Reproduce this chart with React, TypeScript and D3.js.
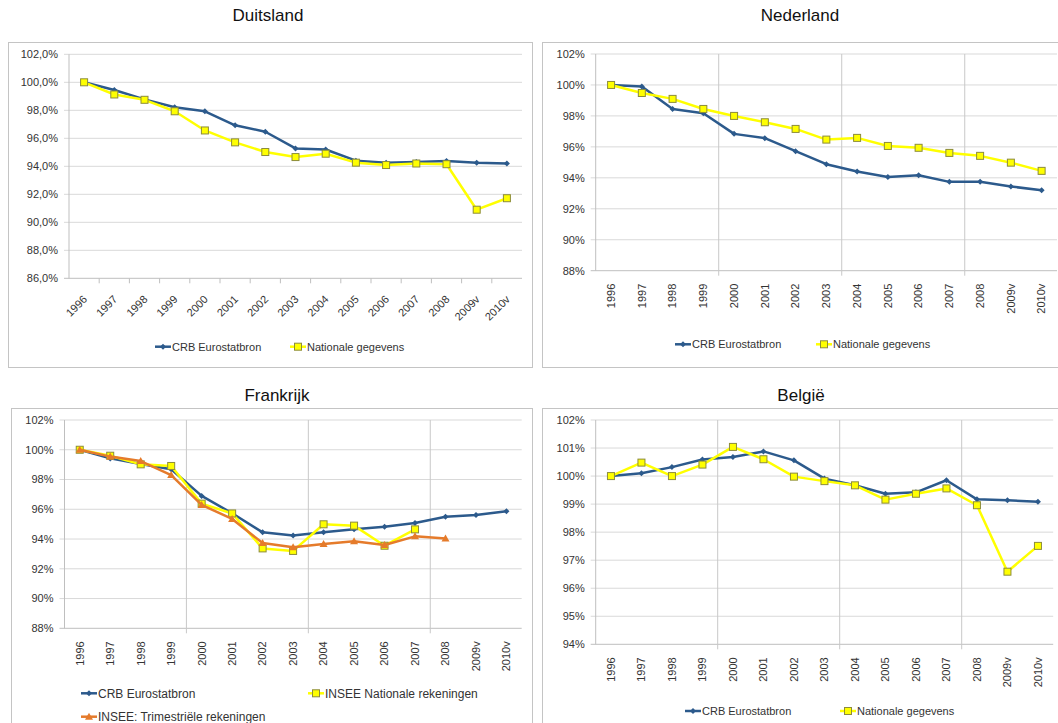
import { useEffect, useRef } from "react"
import * as d3 from "d3"

// categories
const years = ["1996", "1997", "1998", "1999", "2000", "2001", "2002", "2003", "2004", "2005", "2006", "2007", "2008", "2009v", "2010v"]

// Duitsland
const deCrb = [100.0, 99.45, 98.78, 98.22, 97.93, 96.93, 96.47, 95.28, 95.2, 94.4, 94.25, 94.3, 94.38, 94.25, 94.2]
const deNat = [100.0, 99.13, 98.75, 97.93, 96.56, 95.71, 95.02, 94.66, 94.9, 94.26, 94.09, 94.2, 94.15, 90.9, 91.72]

// Nederland
const nlCrb = [100.0, 99.9, 98.45, 98.17, 96.84, 96.56, 95.72, 94.88, 94.41, 94.06, 94.17, 93.74, 93.74, 93.44, 93.2]
const nlNat = [100.0, 99.48, 99.1, 98.45, 98.0, 97.59, 97.16, 96.47, 96.58, 96.06, 95.94, 95.61, 95.42, 94.98, 94.45]

// Frankrijk
const frCrb = [100.0, 99.42, 99.04, 98.69, 96.9, 95.73, 94.45, 94.23, 94.45, 94.65, 94.83, 95.08, 95.5, 95.62, 95.86]
const frInsee = [100.0, 99.6, 99.02, 98.91, 96.38, 95.72, 93.37, 93.2, 94.99, 94.9, 93.55, 94.65, null, null, null]
const frTrim = [100.0, 99.54, 99.24, 98.3, 96.29, 95.35, 93.73, 93.44, 93.67, 93.85, 93.6, 94.18, 94.03, null, null]

// België
const beCrb = [100.0, 100.1, 100.32, 100.59, 100.68, 100.88, 100.56, 99.91, 99.67, 99.37, 99.42, 99.85, 99.17, 99.14, 99.08]
const beNat = [100.0, 100.48, 100.0, 100.41, 101.04, 100.6, 99.98, 99.82, 99.67, 99.16, 99.37, 99.56, 98.96, 96.59, 97.51]

const labelCrb = "CRB Eurostatbron"
const labelNat = "Nationale gegevens"
const labelInsee = "INSEE Nationale rekeningen"
const labelTrim = "INSEE: Trimestriële rekeningen"

type Style = { color: string; marker: "diamond" | "square" | "triangle" }
const crbStyle: Style = { color: "#2C5A8C", marker: "diamond" }
const natStyle: Style = { color: "#FFFF00", marker: "square" }
const trimStyle: Style = { color: "#E57B2B", marker: "triangle" }

type Panel = {
  title: string
  titleX: number
  titleY: number
  box: [number, number, number, number]
  x0: number
  x1: number
  yTop: number
  yBottom: number
  yMin: number
  yMax: number
  yStep: number
  decimals: number
  slanted: boolean
  vgrid: boolean
  legendSize: number
  series: { values: (number | null)[]; style: Style }[]
  legend: { label: string; style: Style; x: number; y: number }[]
}

const panels: Panel[] = [
  {
    title: "Duitsland", titleX: 268, titleY: 21,
    box: [8.5, 42.5, 524, 325],
    x0: 69, x1: 522, yTop: 54.3, yBottom: 278.3,
    yMin: 86, yMax: 102, yStep: 2, decimals: 1,
    slanted: true, vgrid: false, legendSize: 11,
    series: [{ values: deCrb, style: crbStyle }, { values: deNat, style: natStyle }],
    legend: [
      { label: labelCrb, style: crbStyle, x: 155, y: 346.7 },
      { label: labelNat, style: natStyle, x: 290, y: 346.7 },
    ],
  },
  {
    title: "Nederland", titleX: 800, titleY: 21,
    box: [542.5, 42.5, 520, 325],
    x0: 595.7, x1: 1057, yTop: 54, yBottom: 270.7,
    yMin: 88, yMax: 102, yStep: 2, decimals: 0,
    slanted: false, vgrid: true, legendSize: 11,
    series: [{ values: nlCrb, style: crbStyle }, { values: nlNat, style: natStyle }],
    legend: [
      { label: labelCrb, style: crbStyle, x: 675, y: 344.3 },
      { label: labelNat, style: natStyle, x: 816, y: 344.3 },
    ],
  },
  {
    title: "Frankrijk", titleX: 277, titleY: 401,
    box: [11.5, 408.5, 521, 330],
    x0: 64.5, x1: 521.7, yTop: 420, yBottom: 628.3,
    yMin: 88, yMax: 102, yStep: 2, decimals: 0,
    slanted: false, vgrid: true, legendSize: 12,
    series: [
      { values: frCrb, style: crbStyle },
      { values: frInsee, style: natStyle },
      { values: frTrim, style: trimStyle },
    ],
    legend: [
      { label: labelCrb, style: crbStyle, x: 81, y: 693.3 },
      { label: labelInsee, style: natStyle, x: 308, y: 693.3 },
      { label: labelTrim, style: trimStyle, x: 81, y: 716.7 },
    ],
  },
  {
    title: "België", titleX: 801, titleY: 401,
    box: [542.5, 408.5, 520, 330],
    x0: 595.7, x1: 1053.2, yTop: 420, yBottom: 644.3,
    yMin: 94, yMax: 102, yStep: 1, decimals: 0,
    slanted: false, vgrid: true, legendSize: 11,
    series: [{ values: beCrb, style: crbStyle }, { values: beNat, style: natStyle }],
    legend: [
      { label: labelCrb, style: crbStyle, x: 685, y: 711 },
      { label: labelNat, style: natStyle, x: 840, y: 711 },
    ],
  },
]

const nlLocale = d3.formatLocale({ decimal: ",", thousands: ".", grouping: [3], currency: ["€", ""] })
const FONT = "'Liberation Sans', Arial, sans-serif"

function drawMarker(g: d3.Selection<SVGGElement, unknown, null, undefined>, style: Style, x: number, y: number) {
  if (style.marker === "diamond") {
    g.append("path")
      .attr("d", `M${x},${y - 3}L${x + 3},${y}L${x},${y + 3}L${x - 3},${y}Z`)
      .attr("fill", style.color)
  } else if (style.marker === "square") {
    g.append("rect")
      .attr("x", x - 3.5).attr("y", y - 3.5)
      .attr("width", 7).attr("height", 7)
      .attr("fill", style.color)
      .attr("stroke", "#8C8C3A").attr("stroke-width", 1)
  } else {
    g.append("path")
      .attr("d", `M${x},${y - 4}L${x + 4},${y + 3}L${x - 4},${y + 3}Z`)
      .attr("fill", style.color)
  }
}

export default function App() {
  const svgRef = useRef<SVGSVGElement>(null)

  useEffect(() => {
    document.body.style.margin = "0"
    if (!svgRef.current) return
    const svg = d3.select(svgRef.current)
    svg.selectAll("*").remove()
    svg.append("rect").attr("width", 1058).attr("height", 723).attr("fill", "#fff")

    panels.forEach((p) => {
      const g = svg.append("g") as d3.Selection<SVGGElement, unknown, null, undefined>
      const [bx, by, bw, bh] = p.box
      g.append("rect")
        .attr("x", bx).attr("y", by).attr("width", bw).attr("height", bh)
        .attr("fill", "#fff").attr("stroke", "#C4C4C4")

      g.append("text")
        .attr("x", p.titleX).attr("y", p.titleY)
        .attr("text-anchor", "middle")
        .style("font-family", FONT).style("font-size", "17px").style("font-weight", "normal")
        .attr("fill", "#111")
        .text(p.title)

      const x = d3.scaleBand<string>().domain(years).range([p.x0, p.x1])
      const y = d3.scaleLinear().domain([p.yMin, p.yMax]).range([p.yBottom, p.yTop])
      const cx = (d: string) => (x(d) ?? 0) + x.bandwidth() / 2
      const fmt = nlLocale.format(`.${p.decimals}f`)
      const yTicks = d3.range(p.yMin, p.yMax + p.yStep / 2, p.yStep)

      // horizontal gridlines + y labels
      g.selectAll(".hg").data(yTicks).enter().append("line")
        .attr("x1", p.x0 - 5).attr("x2", p.x1)
        .attr("y1", (d) => y(d)).attr("y2", (d) => y(d))
        .attr("stroke", (d) => (d === p.yMin ? "#BFBFBF" : "#D9D9D9"))
      g.selectAll(".yl").data(yTicks).enter().append("text")
        .attr("x", p.x0 - 11).attr("y", (d) => y(d)).attr("dy", "0.35em")
        .attr("text-anchor", "end")
        .style("font-family", FONT).style("font-size", "11px").attr("fill", "#333")
        .text((d) => fmt(d) + "%")

      // y axis line
      g.append("line")
        .attr("x1", p.x0).attr("x2", p.x0).attr("y1", p.yTop).attr("y2", p.yBottom)
        .attr("stroke", "#BFBFBF")

      // vertical gridlines / category ticks
      const bounds = d3.range(1, years.length)
      if (p.vgrid) {
        g.selectAll(".vg").data(bounds.filter((i) => i % 4 === 0)).enter().append("line")
          .attr("x1", (i) => p.x0 + i * x.step()).attr("x2", (i) => p.x0 + i * x.step())
          .attr("y1", p.yTop).attr("y2", p.yBottom + 5)
          .attr("stroke", "#C8C8C8")
      } else {
        g.selectAll(".xt").data(bounds).enter().append("line")
          .attr("x1", (i) => p.x0 + i * x.step()).attr("x2", (i) => p.x0 + i * x.step())
          .attr("y1", p.yBottom).attr("y2", p.yBottom + 5)
          .attr("stroke", "#BFBFBF")
      }

      // x labels
      const xl = g.selectAll(".xl").data(years).enter().append("text")
        .attr("text-anchor", "end")
        .style("font-family", FONT).style("font-size", "11px").attr("fill", "#333")
        .attr("dy", "0.35em")
        .text((d) => d)
      if (p.slanted) {
        xl.attr("transform", (d) => `translate(${cx(d) + 1},${p.yBottom + 19}) rotate(-45)`)
      } else {
        xl.attr("transform", (d) => `translate(${cx(d)},${p.yBottom + 13}) rotate(-90)`)
      }

      // series
      p.series.forEach((s) => {
        const pts = years.map((yr, i) => ({ yr, v: s.values[i] }))
        const line = d3.line<{ yr: string; v: number | null }>()
          .defined((d) => d.v !== null)
          .x((d) => cx(d.yr))
          .y((d) => y(d.v as number))
        g.append("path")
          .attr("d", line(pts))
          .attr("fill", "none")
          .attr("stroke", s.style.color)
          .attr("stroke-width", 2.5)
          .attr("stroke-linejoin", "round")
        const mg = g.append("g") as d3.Selection<SVGGElement, unknown, null, undefined>
        pts.filter((d) => d.v !== null).forEach((d) => drawMarker(mg, s.style, cx(d.yr), y(d.v as number)))
      })

      // legend
      p.legend.forEach((l) => {
        g.append("line")
          .attr("x1", l.x).attr("x2", l.x + 16).attr("y1", l.y).attr("y2", l.y)
          .attr("stroke", l.style.color).attr("stroke-width", 2.5)
        drawMarker(g, l.style, l.x + 8, l.y)
        g.append("text")
          .attr("x", l.x + 17).attr("y", l.y).attr("dy", "0.35em")
          .style("font-family", FONT).style("font-size", `${p.legendSize}px`).attr("fill", "#333")
          .text(l.label)
      })
    })
  }, [])

  return <svg ref={svgRef} width={1058} height={723} style={{ display: "block" }} />
}
